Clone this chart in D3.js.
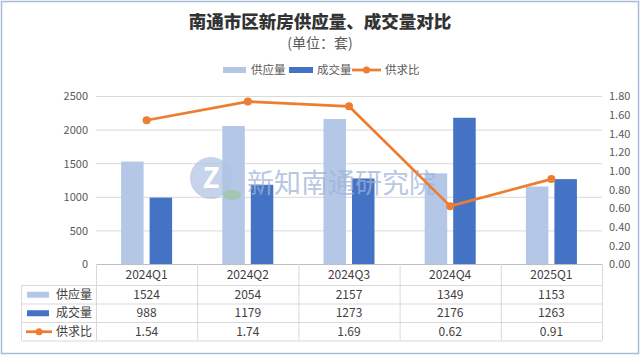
<!DOCTYPE html>
<html><head><meta charset="utf-8">
<script src="https://cdn.jsdelivr.net/npm/d3@7/dist/d3.min.js"></script>
<style>body{margin:0;background:#fff}svg{display:block}text{font-family:"Noto Sans CJK SC","Noto Sans",sans-serif}</style>
</head><body><svg id="c" width="640" height="356"></svg>
<script>
const categories = ["2024Q1","2024Q2","2024Q3","2024Q4","2025Q1"];
const supply = [1524, 2054, 2157, 1349, 1153];
const deals = [988, 1179, 1273, 2176, 1263];
const ratio = [1.54, 1.74, 1.69, 0.62, 0.91];
const ratioLabels = ["1.54","1.74","1.69","0.62","0.91"];
const leftTicks = [0, 500, 1000, 1500, 2000, 2500];
const rightTicks = [0, 0.2, 0.4, 0.6, 0.8, 1.0, 1.2, 1.4, 1.6, 1.8];
const seriesNames = ["供应量","成交量","供求比"];
const title = "南通市区新房供应量、成交量对比";
const subtitle = "(单位：套)";
const watermark = "新知南通研究院";

const C_SUP = "#B4C7E7", C_DEAL = "#4472C4", C_LINE = "#ED7D31";
const svg = d3.select("#c");
const L = 96, R = 602, T = 96, B = 264;

svg.append("rect").attr("x",1.5).attr("y",1.5).attr("width",637).attr("height",352)
  .attr("fill","#fff").attr("stroke","#A9B9D8").attr("stroke-width",1.5);

svg.append("text").attr("x",320).attr("y",28).attr("text-anchor","middle")
  .attr("font-size",17.5).attr("font-weight",900).attr("fill","#333").text(title);
svg.append("text").attr("x",320).attr("y",48).attr("text-anchor","middle")
  .attr("font-size",14).attr("fill","#595959").text(subtitle);

const x = d3.scaleBand().domain(categories).range([L, R]).padding(0);
const y = d3.scaleLinear().domain([0, 2500]).range([B, T]);
const y2 = d3.scaleLinear().domain([0, 1.8]).range([B, T]);

// gridlines
svg.append("g").selectAll("line").data(leftTicks.filter(d=>d>0)).join("line")
  .attr("x1",L).attr("x2",R).attr("y1",d=>y(d)+0.5).attr("y2",d=>y(d)+0.5)
  .attr("stroke","#D9D9D9").attr("stroke-width",1);

// left axis
const ga = svg.append("g").attr("transform",`translate(${L-8},0)`)
  .call(d3.axisLeft(y).tickValues(leftTicks).tickFormat(d3.format("d")).tickSize(0).tickPadding(0));
ga.select(".domain").remove();
ga.selectAll("text").attr("font-size",11).attr("fill","#595959").attr("dy","0.35em");
// right axis
const gb = svg.append("g").attr("transform",`translate(${R+7},0)`)
  .call(d3.axisRight(y2).tickValues(rightTicks).tickFormat(d3.format(".2f")).tickSize(0).tickPadding(0));
gb.select(".domain").remove();
gb.selectAll("text").attr("font-size",11).attr("fill","#595959").attr("dy","0.35em");

// bars
const bw = 22.5, gap = 6;
const off = (x.bandwidth() - (2*bw+gap))/2;
svg.append("g").selectAll("rect").data(supply).join("rect")
  .attr("x",(d,i)=>x(categories[i])+off).attr("width",bw)
  .attr("y",d=>y(d)).attr("height",d=>B-y(d)).attr("fill",C_SUP);
svg.append("g").selectAll("rect").data(deals).join("rect")
  .attr("x",(d,i)=>x(categories[i])+off+bw+gap).attr("width",bw)
  .attr("y",d=>y(d)).attr("height",d=>B-y(d)).attr("fill",C_DEAL);

// watermark
const wm = svg.append("g").attr("opacity",0.72);
wm.append("circle").attr("cx",211).attr("cy",178).attr("r",21).attr("fill","#AFC3E4");
wm.append("text").attr("x",211).attr("y",188).attr("text-anchor","middle").attr("font-size",28)
  .attr("font-weight","bold").attr("fill","#fff").text("Z");
wm.append("ellipse").attr("cx",232).attr("cy",195).attr("rx",9).attr("ry",5).attr("fill","#9BC79B");
wm.append("text").attr("x",247).attr("y",193).attr("font-size",27).attr("fill","#9DB3D8").text(watermark);

// line
const cx = i => x(categories[i]) + x.bandwidth()/2;
svg.append("path").datum(ratio)
  .attr("d", d3.line().x((d,i)=>cx(i)).y(d=>y2(d)))
  .attr("fill","none").attr("stroke",C_LINE).attr("stroke-width",2.75).attr("stroke-linejoin","round");
svg.append("g").selectAll("circle").data(ratio).join("circle")
  .attr("cx",(d,i)=>cx(i)).attr("cy",d=>y2(d)).attr("r",4).attr("fill",C_LINE);

// legend
const lg = svg.append("g");
const ly = 70;
lg.append("rect").attr("x",223).attr("y",ly-3).attr("width",23).attr("height",6).attr("fill",C_SUP);
lg.append("text").attr("x",251).attr("y",ly).attr("dy","0.35em").attr("font-size",11.5).attr("fill","#595959").text(seriesNames[0]);
lg.append("rect").attr("x",289).attr("y",ly-3).attr("width",24).attr("height",6).attr("fill",C_DEAL);
lg.append("text").attr("x",317).attr("y",ly).attr("dy","0.35em").attr("font-size",11.5).attr("fill","#595959").text(seriesNames[1]);
lg.append("line").attr("x1",352).attr("x2",381).attr("y1",ly).attr("y2",ly).attr("stroke",C_LINE).attr("stroke-width",2.75);
lg.append("circle").attr("cx",366.5).attr("cy",ly).attr("r",3.5).attr("fill",C_LINE);
lg.append("text").attr("x",385).attr("y",ly).attr("dy","0.35em").attr("font-size",11.5).attr("fill","#595959").text(seriesNames[2]);

// data table
const rowsY = [264, 285, 303.5, 322, 340.5];
const tg = svg.append("g");
const gridC = "#D9D9D9";
tg.append("line").attr("x1",L).attr("x2",R).attr("y1",B+0.5).attr("y2",B+0.5).attr("stroke","#BFBFBF");
[1,2,3,4].forEach(k=>{
  tg.append("line").attr("x1",21.5).attr("x2",R).attr("y1",rowsY[k]+0.5).attr("y2",rowsY[k]+0.5).attr("stroke",gridC);
});
x.domain().concat(["_end"]).forEach((c,i)=>{
  const xx = (i<categories.length? x(c): R) + 0.5;
  tg.append("line").attr("x1",xx).attr("x2",xx).attr("y1",B).attr("y2",rowsY[4]).attr("stroke",gridC);
});
tg.append("line").attr("x1",21.5).attr("x2",21.5).attr("y1",rowsY[1]).attr("y2",rowsY[4]).attr("stroke",gridC);

const tc = "#404040";
tg.selectAll("text.cat").data(categories).join("text").attr("class","cat")
  .attr("x",d=>x(d)+x.bandwidth()/2).attr("y",(rowsY[0]+rowsY[1])/2+0.5).attr("dy","0.35em")
  .attr("text-anchor","middle").attr("font-size",12).attr("fill",tc).text(d=>d);
const rows = [supply.map(String), deals.map(String), ratioLabels];
rows.forEach((vals,r)=>{
  const cy = (rowsY[r+1]+rowsY[r+2])/2+0.5;
  tg.selectAll("text.r"+r).data(vals).join("text").attr("class","r"+r)
    .attr("x",(d,i)=>x(categories[i])+x.bandwidth()/2).attr("y",cy).attr("dy","0.35em")
    .attr("text-anchor","middle").attr("font-size",12).attr("fill",tc).text(d=>d);
  tg.append("text").attr("x",56).attr("y",cy).attr("dy","0.35em").attr("font-size",12)
    .attr("fill",tc).text(seriesNames[r]);
  if (r===0) tg.append("rect").attr("x",27).attr("y",cy-3).attr("width",22).attr("height",6).attr("fill",C_SUP);
  if (r===1) tg.append("rect").attr("x",27).attr("y",cy-3).attr("width",22).attr("height",6).attr("fill",C_DEAL);
  if (r===2){
    tg.append("line").attr("x1",26).attr("x2",52).attr("y1",cy).attr("y2",cy).attr("stroke",C_LINE).attr("stroke-width",2.75);
    tg.append("circle").attr("cx",39).attr("cy",cy).attr("r",3.5).attr("fill",C_LINE);
  }
});
</script></body></html>
